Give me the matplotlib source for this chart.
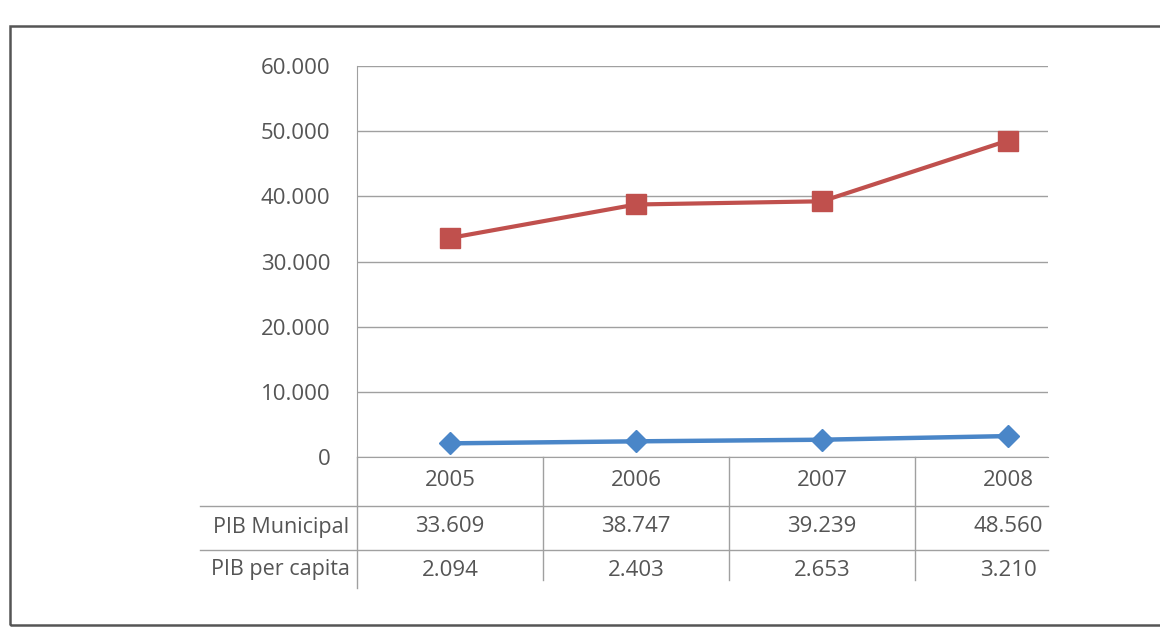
import matplotlib
matplotlib.use("Agg")
import matplotlib.pyplot as plt
from matplotlib.patches import Rectangle
from matplotlib.lines import Line2D
from matplotlib.ticker import FuncFormatter
import matplotlib.transforms as mtransforms

years = ["2005", "2006", "2007", "2008"]
pib_municipal = [33609, 38747, 39239, 48560]
pib_per_capita = [2094, 2403, 2653, 3210]
row_labels = ["PIB Municipal", "PIB per capita"]
yticks = [0, 10000, 20000, 30000, 40000, 50000, 60000]

def fmt(v):
    return f"{int(v):,}".replace(",", ".")

plt.rcParams['font.family'] = ['Open Sans', 'DejaVu Sans']
W, H = 1160, 638
fig = plt.figure(figsize=(W/100, H/100), dpi=100)
fig.patch.set_facecolor("white")

# outer frame
fig.patches.append(Rectangle((10/W, 1-625/H), 1.2, (625-26)/H, transform=fig.transFigure,
                             fill=False, edgecolor="#555555", linewidth=1.8))

AX_L, AX_R, AX_T, AX_B = 357, 1048, 66, 457
ax = fig.add_axes([AX_L/W, 1-AX_B/H, (AX_R-AX_L)/W, (AX_B-AX_T)/H])
x = list(range(len(years)))
ax.plot(x, pib_municipal, color="#C0504D", lw=3.0, marker="s", ms=14, zorder=3)
ax.plot(x, pib_per_capita, color="#4A86C8", lw=3.2, marker="D", ms=11, zorder=3)
ax.set_xlim(-0.5, -0.5 + (AX_R-AX_L)/186)
ax.set_ylim(0, 60000)
ax.set_yticks(yticks)
ax.yaxis.set_major_formatter(FuncFormatter(lambda v, p: fmt(v)))
ax.tick_params(axis="y", length=0, pad=19, labelsize=16, labelcolor="#555555")
ax.set_xticks([])
ax.grid(axis="y", color="#a0a0a0", lw=1.0)
for s in ["top", "right"]:
    ax.spines[s].set_visible(False)
ax.spines["left"].set_color("#a0a0a0")
ax.spines["bottom"].set_color("#a0a0a0")

# data table below axis
trans = mtransforms.blended_transform_factory(ax.transData, ax.transAxes)
ax_h_px = AX_B-AX_T
def ay(py):
    return (AX_B-py)/ax_h_px

row_year = ay(480)
row_mun = ay(527)
row_cap = ay(570)
tc = "#555555"
for i, yr in enumerate(years):
    ax.text(i, row_year, yr, transform=trans, ha="center", va="center", fontsize=16,
            color=tc, clip_on=False)
    ax.text(i, row_mun, fmt(pib_municipal[i]), transform=trans, ha="center", va="center",
            fontsize=16, color=tc, clip_on=False)
    ax.text(i, row_cap, fmt(pib_per_capita[i]), transform=trans, ha="center", va="center",
            fontsize=16, color=tc, clip_on=False)
for j, lab in enumerate(row_labels):
    yy = row_mun if j == 0 else row_cap
    ax.text(-0.54, yy, lab, transform=trans, ha="right", va="center", fontsize=15.5,
            color=tc, clip_on=False)

lc = "#a0a0a0"
xr = ax.get_xlim()[1]
# vertical separators
ax.add_line(Line2D([-0.5, -0.5], [0, ay(588)], transform=trans, color=lc, lw=1.0, clip_on=False))
for b in [k + 0.5 for k in range(len(years)-1)]:
    ax.add_line(Line2D([b, b], [0, ay(580)], transform=trans, color=lc, lw=1.0, clip_on=False))
# horizontal separators
for yy in [ay(506), ay(550)]:
    ax.add_line(Line2D([-1.345, xr], [yy, yy], transform=trans, color=lc, lw=1.0, clip_on=False))

fig.savefig("out.png", dpi=100)
